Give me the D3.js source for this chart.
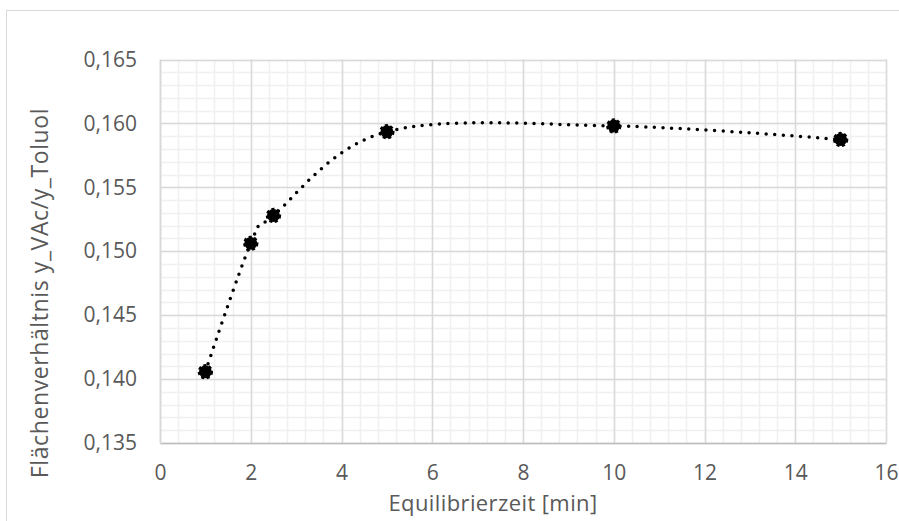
<!DOCTYPE html>
<html>
<head>
<meta charset="utf-8">
<script src="https://cdn.jsdelivr.net/npm/d3@7"></script>
<style>
  body { margin: 0; background: #fff; }
  text { font-family: "Open Sans", sans-serif; fill: #595959; }
</style>
</head>
<body>
<script>
//Data
var zeit = [1, 2, 2.5, 5, 10, 15];
var verhaeltnis = [0.14057, 0.15062, 0.15280, 0.15935, 0.15980, 0.15874];
var xTicks = [0, 2, 4, 6, 8, 10, 12, 14, 16];
var yTicks = [0.135, 0.140, 0.145, 0.150, 0.155, 0.160, 0.165];

//Width and height
var w = 899;
var h = 521;
var m = {left: 160, right: 13, top: 59.5, bottom: 78};

var svg = d3.select("body")
  .append("svg")
  .attr("width", w)
  .attr("height", h);

//Chart frame
svg.append("rect")
  .attr("x", 6.5).attr("y", 10.5)
  .attr("width", w - 6).attr("height", h - 8)
  .attr("fill", "none")
  .attr("stroke", "#d9d9d9");

var x = d3.scaleLinear().domain([0, 16]).range([m.left, w - m.right]);
var y = d3.scaleLinear().domain([0.135, 0.165]).range([h - m.bottom, m.top]);

//Minor gridlines
var minorX = d3.range(0, 16.001, 0.4);
var minorY = d3.range(0.135, 0.16501, 0.001);

svg.append("g").selectAll("line")
  .data(minorX)
  .enter().append("line")
  .attr("x1", function(d) { return Math.round(x(d)) + 0.5; })
  .attr("x2", function(d) { return Math.round(x(d)) + 0.5; })
  .attr("y1", y(0.165)).attr("y2", y(0.135))
  .attr("stroke", "#f0f0f0").attr("stroke-width", 1.5);

svg.append("g").selectAll("line")
  .data(minorY)
  .enter().append("line")
  .attr("y1", function(d) { return Math.round(y(d)) + 0.5; })
  .attr("y2", function(d) { return Math.round(y(d)) + 0.5; })
  .attr("x1", x(0)).attr("x2", x(16))
  .attr("stroke", "#f0f0f0").attr("stroke-width", 1.5);

//Major gridlines
svg.append("g").selectAll("line")
  .data(xTicks)
  .enter().append("line")
  .attr("x1", function(d) { return Math.round(x(d)) + 0.5; })
  .attr("x2", function(d) { return Math.round(x(d)) + 0.5; })
  .attr("y1", y(0.165)).attr("y2", y(0.135))
  .attr("stroke", "#d9d9d9").attr("stroke-width", 1.5);

svg.append("g").selectAll("line")
  .data(yTicks)
  .enter().append("line")
  .attr("y1", function(d) { return Math.round(y(d)) + 0.5; })
  .attr("y2", function(d) { return Math.round(y(d)) + 0.5; })
  .attr("x1", x(0)).attr("x2", x(16))
  .attr("stroke", "#d9d9d9").attr("stroke-width", 1.5);

//Axes (labels only, lines come from the grid)
var fmt = function(d) { return d3.format(".3f")(d).replace(".", ","); };

var xAxis = svg.append("g")
  .attr("transform", "translate(0," + y(0.135) + ")")
  .call(d3.axisBottom(x).tickValues(xTicks).tickSize(0).tickPadding(22));
xAxis.select(".domain").attr("stroke", "#bfbfbf").attr("stroke-width", 1.5);
xAxis.selectAll("text").style("font-size", "21px").attr("fill", "#595959");

var yAxis = svg.append("g")
  .attr("transform", "translate(" + x(0) + ",0)")
  .call(d3.axisLeft(y).tickValues(yTicks).tickFormat(fmt).tickSize(0).tickPadding(23));
yAxis.select(".domain").attr("stroke", "#d9d9d9").attr("stroke-width", 1.5);
yAxis.selectAll("text").style("font-size", "21px").attr("fill", "#595959");

//Axis titles
svg.append("text")
  .attr("x", 493).attr("y", 511)
  .attr("text-anchor", "middle")
  .style("font-size", "22px")
  .style("letter-spacing", "0.4px")
  .text("Equilibrierzeit [min]");

svg.append("text")
  .attr("transform", "translate(48,293) rotate(-90)")
  .attr("text-anchor", "middle")
  .style("font-size", "23px")
  .style("letter-spacing", "0.6px")
  .text("Flächenverhältnis y_VAc/y_Toluol");

//Smoothed dotted line
var pts = zeit.map(function(d, i) { return [d, verhaeltnis[i]]; });

var line = d3.line()
  .x(function(d) { return x(d[0]); })
  .y(function(d) { return y(d[1]); })
  .curve(d3.curveCardinal.tension(0));

svg.append("path")
  .datum(pts)
  .attr("d", line)
  .attr("fill", "none")
  .attr("stroke", "#000")
  .attr("stroke-width", 3.5)
  .attr("stroke-linecap", "round")
  .attr("stroke-dasharray", "0,8.6");

//Markers
svg.append("g").selectAll("path")
  .data(pts)
  .enter().append("path")
  .attr("transform", function(d) { return "translate(" + x(d[0]) + "," + y(d[1]) + ")"; })
  .attr("d", d3.symbol().type(d3.symbolCircle).size(130))
  .attr("fill", "#000")
  .attr("stroke", "#000")
  .attr("stroke-width", 2.5)
  .attr("stroke-dasharray", "3,2.5");
</script>
</body>
</html>
